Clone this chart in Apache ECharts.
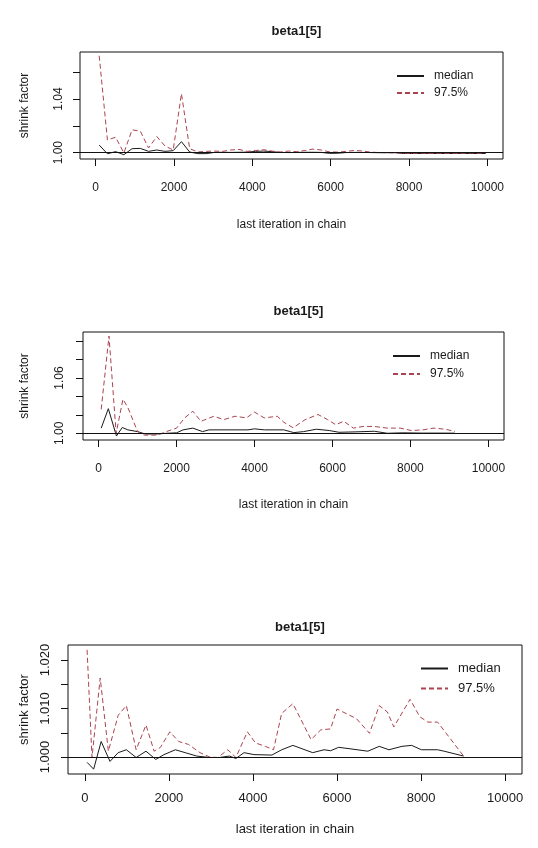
<!DOCTYPE html>
<html>
<head>
<meta charset="utf-8">
<script src="https://cdn.jsdelivr.net/npm/echarts@6/dist/echarts.min.js"></script>
<style>
  html, body { margin: 0; padding: 0; background: #fff; }
  #chart { width: 538px; height: 848px; }
</style>
</head>
<body>
<div id="chart"></div>
<script>
// Gelman-Rubin shrink factor traces for beta1[5], three runs.

// ---- Panel 1 ----
const p1Iter = [90,300,510,720,930,1140,1350,1560,1770,1980,2190,2400,2610,2820,3030,3240,3450,3660,3870,4080,4290,4500,4710,4920,5130,5340,5550,5760,5970,6180,6390,6600,6810,7020,7230,7440,7650,7860,8070,8280,8490,8700,8910,9120,9330,9540,9750,9960];
const p1Median = [1.0057,0.9992,1.0008,0.9985,1.0030,1.0032,1.0010,1.0020,1.0010,1.0015,1.0082,1.0005,0.9993,0.9993,1.0002,1.0003,1.0002,1.0003,1.0004,1.0010,1.0012,1.0008,1.0002,1.0001,1.0002,1.0003,1.0003,1.0002,0.9995,0.9996,1.0001,1.0002,1.0002,1.0001,1.0000,1.0000,1.0000,0.9994,0.9994,0.9994,0.9995,0.9994,0.9994,0.9994,0.9995,0.9994,0.9994,0.9994];
const p1Upper = [1.0722,1.0095,1.0115,0.9998,1.0170,1.0160,1.0035,1.0120,1.0050,1.0020,1.0440,1.0030,1.0005,1.0010,1.0012,1.0010,1.0020,1.0024,1.0010,1.0016,1.0022,1.0012,1.0005,1.0012,1.0008,1.0016,1.0027,1.0020,1.0006,1.0004,1.0010,1.0016,1.0013,1.0004,1.0001,1.0000,0.9999,0.9996,0.9995,0.9997,0.9995,0.9996,0.9995,0.9996,0.9995,0.9998,0.9995,0.9995];
const p1YTicks = [1.00,1.02,1.04,1.06];
const p1YLabels = [1.00,1.04];

// ---- Panel 2 ----
const p2MedianIter = [67,250,458,608,750,1000,1200,1500,1750,2000,2167,2417,2667,2833,3833,4000,4250,4750,4917,5008,5256,5587,5917,6165,6578,7074,7405,7800,8300,8800,9140];
const p2Median = [1.0056,1.0267,0.9970,1.0063,1.0037,1.0018,0.9992,0.9992,1.0000,1.0005,1.0037,1.0056,1.0018,1.0037,1.0037,1.0048,1.0037,1.0037,1.0018,1.0007,1.0018,1.0044,1.0030,1.0011,1.0015,1.0022,1.0000,1.0005,1.0002,1.0002,1.0001];
const p2UpperIter = [67,267,450,625,750,1000,1170,1500,1750,2000,2208,2417,2625,2958,3208,3500,3792,4000,4250,4583,4750,4990,5298,5628,5876,6083,6289,6537,6785,7074,7405,7735,8024,8313,8603,8892,9140];
const p2Upper = [1.0260,1.1056,1.0000,1.0370,1.0280,1.0020,0.9980,0.9980,1.0020,1.0056,1.0167,1.0240,1.0130,1.0185,1.0148,1.0185,1.0167,1.0230,1.0167,1.0185,1.0120,1.0060,1.0148,1.0204,1.0148,1.0093,1.0130,1.0056,1.0074,1.0074,1.0056,1.0056,1.0030,1.0037,1.0056,1.0044,1.0020];
const p2YTicks = [1.00,1.02,1.04,1.06,1.08,1.10];
const p2YLabels = [1.00,1.06];

// ---- Panel 3 ----
const p3MedianIter = [54,210,389,599,794,988,1221,1455,1688,1883,2155,2388,2661,2972,3205,3439,3594,3789,4022,4450,4683,4950,5421,5691,5846,6039,6309,6733,7004,7235,7544,7776,8007,8393,8548,9011];
const p3Median = [0.9989,0.9975,1.0032,0.9991,1.0009,1.0015,0.9999,1.0012,0.9995,1.0005,1.0015,1.0009,1.0002,0.9999,0.9999,1.0002,0.9997,1.0009,1.0005,1.0004,1.0015,1.0024,1.0009,1.0015,1.0013,1.0020,1.0017,1.0012,1.0022,1.0015,1.0022,1.0024,1.0015,1.0015,1.0012,1.0002];
const p3UpperIter = [54,171,366,560,794,988,1221,1455,1649,1800,2023,2233,2466,2739,2972,3166,3400,3594,3867,4061,4294,4489,4683,4950,5382,5614,5846,6000,6232,6463,6772,7004,7197,7351,7737,7969,8162,8393,9011];
const p3Upper = [1.0221,0.9999,1.0163,1.0012,1.0086,1.0106,1.0015,1.0066,1.0012,1.0020,1.0052,1.0032,1.0026,1.0009,1.0000,0.9999,1.0015,0.9999,1.0052,1.0029,1.0022,1.0015,1.0090,1.0110,1.0036,1.0056,1.0058,1.0099,1.0089,1.0079,1.0049,1.0106,1.0093,1.0062,1.0119,1.0083,1.0072,1.0072,1.0002];
const p3YTicks = [1.000,1.005,1.010,1.015,1.020];
const p3YLabels = [1.000,1.010,1.020];

const xTicks = [0,2000,4000,6000,8000,10000];
const titleText = 'beta1[5]';
const xName = 'last iteration in chain';
const yName = 'shrink factor';

const FONT = '"Liberation Sans", Arial, sans-serif';
const INK = '#1a1a1a';
const RED = '#ab4450';

const pair = (xs, ys) => xs.map((x, i) => [x, ys[i]]);

const panels = [
  { box: {left: 80, top: 52, width: 423, height: 107}, yMin: 0.9953, yMax: 1.0750,
    ticks: p1YTicks, labels: p1YLabels, dec: 2,
    med: pair(p1Iter, p1Median), up: pair(p1Iter, p1Upper),
    titleY: 20, fs: 12, xLabMargin: 23, xNameGap: 60, yLabMargin: 15, yNameGap: 49,
    legend: {left: 396, top: 70, gap: 5} },
  { box: {left: 83, top: 332, width: 421, height: 108}, yMin: 0.9927, yMax: 1.1100,
    ticks: p2YTicks, labels: p2YLabels, dec: 2,
    med: pair(p2MedianIter, p2Median), up: pair(p2UpperIter, p2Upper),
    titleY: 300, fs: 12, xLabMargin: 23, xNameGap: 59, yLabMargin: 17, yNameGap: 52,
    legend: {left: 392, top: 350, gap: 6} },
  { box: {left: 68, top: 645, width: 454, height: 129}, yMin: 0.9965, yMax: 1.0231,
    ticks: p3YTicks, labels: p3YLabels, dec: 3,
    med: pair(p3MedianIter, p3Median), up: pair(p3UpperIter, p3Upper),
    titleY: 616, fs: 13, xLabMargin: 18, xNameGap: 49, yLabMargin: 16, yNameGap: 37,
    legend: {left: 420, top: 662, gap: 7} }
];

const option = {
  animation: false,
  backgroundColor: '#ffffff',
  textStyle: { fontFamily: FONT, color: INK },
  title: [], grid: [], xAxis: [], yAxis: [], series: [], legend: []
};

panels.forEach((p, i) => {
  option.title.push({
    text: titleText, left: p.box.left + p.box.width / 2, top: p.titleY, textAlign: 'center',
    textStyle: { fontFamily: FONT, fontSize: 13, fontWeight: 'bold', color: INK }
  });
  option.grid.push({
    left: p.box.left, top: p.box.top, width: p.box.width, height: p.box.height,
    show: true, borderColor: '#111', borderWidth: 1, backgroundColor: 'transparent'
  });
  option.xAxis.push({
    type: 'value', gridIndex: i, min: -400, max: 10400,
    name: xName, nameLocation: 'middle', nameGap: p.xNameGap,
    nameTextStyle: { fontFamily: FONT, fontSize: p.fs, color: INK },
    axisLine: { show: false, onZero: false },
    splitLine: { show: false },
    axisTick: { show: true, inside: false, length: 7, customValues: xTicks, lineStyle: { color: '#111', width: 1 } },
    axisLabel: { customValues: xTicks, margin: p.xLabMargin, fontFamily: FONT, fontSize: p.fs, color: INK,
      formatter: v => String(Math.round(v)) }
  });
  option.yAxis.push({
    type: 'value', gridIndex: i, min: p.yMin, max: p.yMax,
    name: yName, nameLocation: 'middle', nameRotate: 90, nameGap: p.yNameGap,
    nameTextStyle: { fontFamily: FONT, fontSize: p.fs, color: INK },
    axisLine: { show: false, onZero: false },
    splitLine: { show: false },
    axisTick: { show: true, inside: false, length: 7, customValues: p.ticks, lineStyle: { color: '#111', width: 1 } },
    axisLabel: { customValues: p.labels, rotate: 90, margin: p.yLabMargin, fontFamily: FONT, fontSize: p.fs, color: INK,
      formatter: v => Number(v).toFixed(p.dec) }
  });
  option.series.push({
    name: 'median', type: 'line', xAxisIndex: i, yAxisIndex: i, data: p.med,
    symbol: 'none', showSymbol: false, silent: true,
    lineStyle: { color: INK, width: 1, type: 'solid' }, itemStyle: { color: INK }, z: 3
  });
  option.series.push({
    name: '97.5%', type: 'line', xAxisIndex: i, yAxisIndex: i, data: p.up,
    symbol: 'none', showSymbol: false, silent: true,
    lineStyle: { color: RED, width: 1, type: [5, 3] }, itemStyle: { color: RED }, z: 4
  });
  // reference line at a shrink factor of 1
  option.series.push({
    name: 'ref', type: 'line', xAxisIndex: i, yAxisIndex: i, data: [], silent: true, z: 5,
    markLine: { symbol: 'none', silent: true, label: { show: false },
      lineStyle: { color: '#111', width: 1, type: 'solid' }, data: [{ yAxis: 1 }] }
  });
  option.legend.push({
    data: ['median', '97.5%'], orient: 'vertical', left: p.legend.left, top: p.legend.top,
    padding: 0, itemWidth: 27, itemHeight: 14, itemGap: p.legend.gap, selectedMode: false,
    itemStyle: { opacity: 0 },
    textStyle: { fontFamily: FONT, fontSize: p.fs, color: INK, padding: [0, 0, 0, 5] }
  });
});

const chart = echarts.init(document.getElementById('chart'), null, { renderer: 'canvas' });
chart.setOption(option);
</script>
</body>
</html>
